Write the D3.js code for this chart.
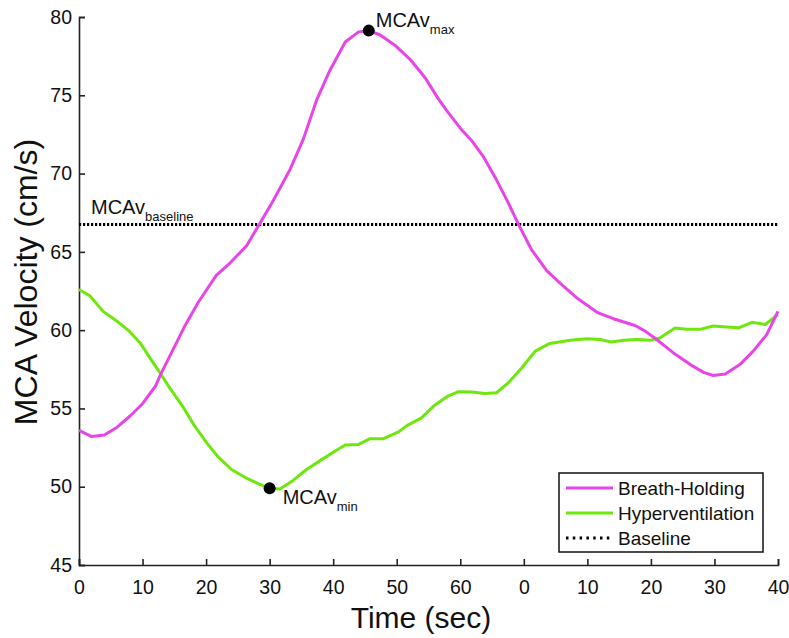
<!DOCTYPE html>
<html><head><meta charset="utf-8">
<script src="https://cdn.jsdelivr.net/npm/d3@7"></script>
<style>
html,body{margin:0;padding:0;background:#fff;}
text{font-family:"Liberation Sans",Arial,Helvetica,sans-serif;fill:#111;}
</style></head>
<body>
<svg id="chart" width="789" height="638"></svg>
<script>
// ---- data ----
const xTicks = [0,10,20,30,40,50,60,70,80,90,100,110];
const xTickLabels = ["0","10","20","30","40","50","60","0","10","20","30","40"];
const yTicks = [45,50,55,60,65,70,75,80];

const breathTime  = [0,2,4,6,8,10,12,13,14.6,16.7,18.8,21.6,23.8,26.4,28.5,30.6,33.2,35.3,37.4,39.5,41.9,44.0,45.6,47.4,49.7,52.1,54.5,56.5,57.9,60.0,61.8,63.6,65.7,67.6,69.1,71.2,73.6,75.7,78.3,81.7,84.1,87.5,89.1,90.9,93.5,96.2,98.3,99.8,101.7,104.0,106.1,108.2,110];
const breathValue = [53.6,53.2,53.3,53.8,54.5,55.3,56.4,57.3,58.6,60.3,61.8,63.5,64.3,65.4,66.85,68.3,70.25,72.2,74.7,76.6,78.4,79.05,79.13,78.85,78.2,77.3,76.1,74.8,74.0,72.9,72.1,71.1,69.6,68.1,66.8,65.15,63.8,63.0,62.07,61.1,60.73,60.3,59.94,59.4,58.56,57.8,57.3,57.1,57.2,57.8,58.66,59.7,61.2];

const hyperTime  = [0,1.7,3.8,6.2,8.0,9.6,11.2,12.7,14.3,16.2,18.0,20.1,21.9,24.0,26.1,28.2,30.0,31.6,33.7,35.8,37.9,40.0,41.9,44.0,45.8,47.9,50.3,51.6,53.9,55.8,57.9,59.7,61.8,63.9,65.7,67.6,69.7,71.8,74.1,77.3,79.9,82.0,83.8,85.7,87.8,89.9,91.4,93.8,95.6,97.7,99.8,101.9,103.8,105.9,108.0,110];
const hyperValue = [62.6,62.2,61.2,60.5,59.9,59.2,58.2,57.3,56.3,55.2,54.0,52.8,51.9,51.1,50.6,50.2,49.9,49.85,50.4,51.1,51.65,52.2,52.67,52.7,53.07,53.07,53.5,53.9,54.4,55.15,55.75,56.07,56.05,55.95,56.0,56.65,57.6,58.66,59.15,59.36,59.45,59.4,59.24,59.35,59.4,59.35,59.5,60.13,60.05,60.05,60.26,60.2,60.15,60.5,60.36,61.0];

const baselineValue = 66.75;
const markerNames = ["max","min"];
const markerTime  = [45.6, 30.0];
const markerValue = [79.13, 49.9];

const seriesNames = ["Breath-Holding","Hyperventilation","Baseline"];
const seriesColors = ["#e845e8","#6ee80c","#000"];

// ---- layout ----
const svg = d3.select("#chart");
const x = d3.scaleLinear().domain([0,110]).range([79,778]);
const y = d3.scaleLinear().domain([45,80]).range([565,17]);

// axes
const xAxis = svg.append("g").attr("transform","translate(0,565)")
  .call(d3.axisBottom(x).tickValues(xTicks).tickSize(-6).tickPadding(9)
    .tickFormat((d,i)=>xTickLabels[i]));
const yAxis = svg.append("g").attr("transform","translate(79,0)")
  .call(d3.axisLeft(y).tickValues(yTicks).tickSize(-6).tickPadding(7));
[xAxis,yAxis].forEach(g=>{
  g.select(".domain").attr("stroke","#222").attr("stroke-width",1.6);
  g.selectAll(".tick line").attr("stroke","#222").attr("stroke-width",1.6);
  g.selectAll(".tick text").style("font-size","19.5px").attr("fill","#222")
    .style("font-family","'Liberation Sans',Arial,sans-serif");
});
xAxis.selectAll(".tick text").attr("dy","0.72em").attr("y",15);

// baseline
svg.append("line")
  .attr("x1",x(0)).attr("x2",x(110))
  .attr("y1",y(baselineValue)).attr("y2",y(baselineValue))
  .attr("stroke","#000").attr("stroke-width",3).attr("stroke-dasharray","2.2 1.8");

// lines
const line = d3.line().x(d=>x(d[0])).y(d=>y(d[1]));
const bh = breathTime.map((t,i)=>[t,breathValue[i]]);
const hv = hyperTime.map((t,i)=>[t,hyperValue[i]]);
svg.append("path").datum(hv).attr("d",line).attr("fill","none")
  .attr("stroke",seriesColors[1]).attr("stroke-width",3).attr("stroke-linejoin","round");
svg.append("path").datum(bh).attr("d",line).attr("fill","none")
  .attr("stroke",seriesColors[0]).attr("stroke-width",3).attr("stroke-linejoin","round");

// markers
markerTime.forEach((t,i)=>{
  svg.append("circle").attr("cx",x(t)).attr("cy",y(markerValue[i])).attr("r",6).attr("fill","#000");
});

function sublabel(px,py,sub){
  const t = svg.append("text").attr("x",px).attr("y",py).style("font-size","20px");
  t.append("tspan").text("MCAv");
  t.append("tspan").attr("dy",7).style("font-size","13px").text(sub);
}
sublabel(x(markerTime[0])+7, y(markerValue[0])-4, "max");
sublabel(x(markerTime[1])+13, y(markerValue[1])+16, "min");
sublabel(91, y(baselineValue)-10, "baseline");

// axis titles
svg.append("text").attr("x",421).attr("y",628).attr("text-anchor","middle")
  .style("font-size","30px").text("Time (sec)");
svg.append("text").attr("transform","translate(37,282) rotate(-90)")
  .attr("text-anchor","middle").style("font-size","32px").text("MCA Velocity (cm/s)");

// legend
const lg = svg.append("g");
lg.append("rect").attr("x",559).attr("y",473).attr("width",204).attr("height",79)
  .attr("fill","#fff").attr("stroke","#111").attr("stroke-width",1.5);
const rowsY = [488,513,538];
seriesNames.forEach((n,i)=>{
  lg.append("line").attr("x1",566).attr("x2",613).attr("y1",rowsY[i]).attr("y2",rowsY[i])
    .attr("stroke",seriesColors[i]).attr("stroke-width",3)
    .attr("stroke-dasharray", i===2 ? "2.5 4.3" : null);
  lg.append("text").attr("x",618).attr("y",rowsY[i]).attr("dy","0.36em")
    .style("font-size","19px").text(n);
});
</script>
</body></html>
